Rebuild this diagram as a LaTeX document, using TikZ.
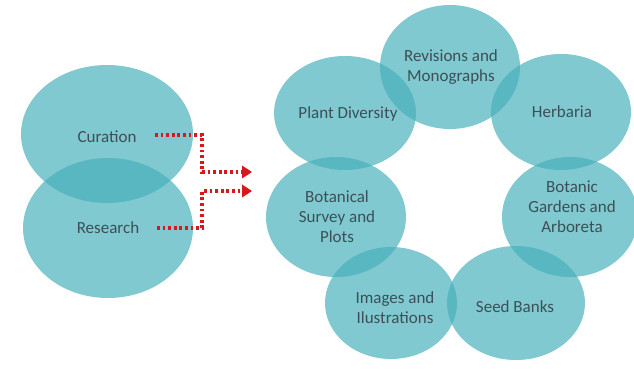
\documentclass[tikz,border=0pt]{standalone}
\usepackage{fontspec}
\setmainfont{Carlito}
\usetikzlibrary{arrows.meta}
\definecolor{bub}{RGB}{70,175,186}
\definecolor{txt}{RGB}{58,80,86}
\definecolor{arr}{RGB}{215,25,30}
\begin{document}
\begin{tikzpicture}[x=1pt,y=-1pt,
  lbl/.style={text=txt, align=center, font=\fontsize{17}{20}\selectfont},
  flow/.style={draw=arr, line width=3.2pt, dash pattern=on 2.8pt off 2.8pt, -{Triangle[length=10pt,width=13pt,fill=arr,line width=0pt]}}]
\useasboundingbox (0,0) rectangle (634,382);
% left ellipses
\fill[bub, fill opacity=0.68] (107,134) ellipse [x radius=86, y radius=69];
\fill[bub, fill opacity=0.68] (108,228) ellipse [x radius=85, y radius=70];
\node[lbl] (cur) at (107,137) {Curation};
\node[lbl] (res) at (108,228) {Research};
% right ellipses
\foreach \cx/\cy/\rx/\ry in {450/67/70/62, 345/113/71/57, 561/112/70/58, 336/217/70/60, 570/217/68/60, 391/303/66/56, 516/303/69/57}
  \fill[bub, fill opacity=0.68] (\cx,\cy) ellipse [x radius=\rx, y radius=\ry];
\node[lbl] (rev) at (451,67) {Revisions and\\Monographs};
\node[lbl] (pd) at (348,114) {Plant Diversity};
\node[lbl] (herb) at (562,112) {Herbaria};
\node[lbl] (bs) at (337,217) {Botanical\\Survey and\\Plots};
\node[lbl] (bg) at (572,207) {Botanic\\Gardens and\\Arboreta};
\node[lbl] (img) at (395,308) {Images and\\Ilustrations};
\node[lbl] (seed) at (515,307) {Seed Banks};
% arrows
\coordinate (a1s) at (155,135);
\coordinate (a1e) at (252,172);
\coordinate (a2s) at (157,228);
\coordinate (a2e) at (252,191);
\draw[flow] (a1s) -- (202,135) -- (202,172) -- (a1e);
\draw[flow] (a2s) -- (202,228) -- (202,191) -- (a2e);
\end{tikzpicture}
\end{document}
